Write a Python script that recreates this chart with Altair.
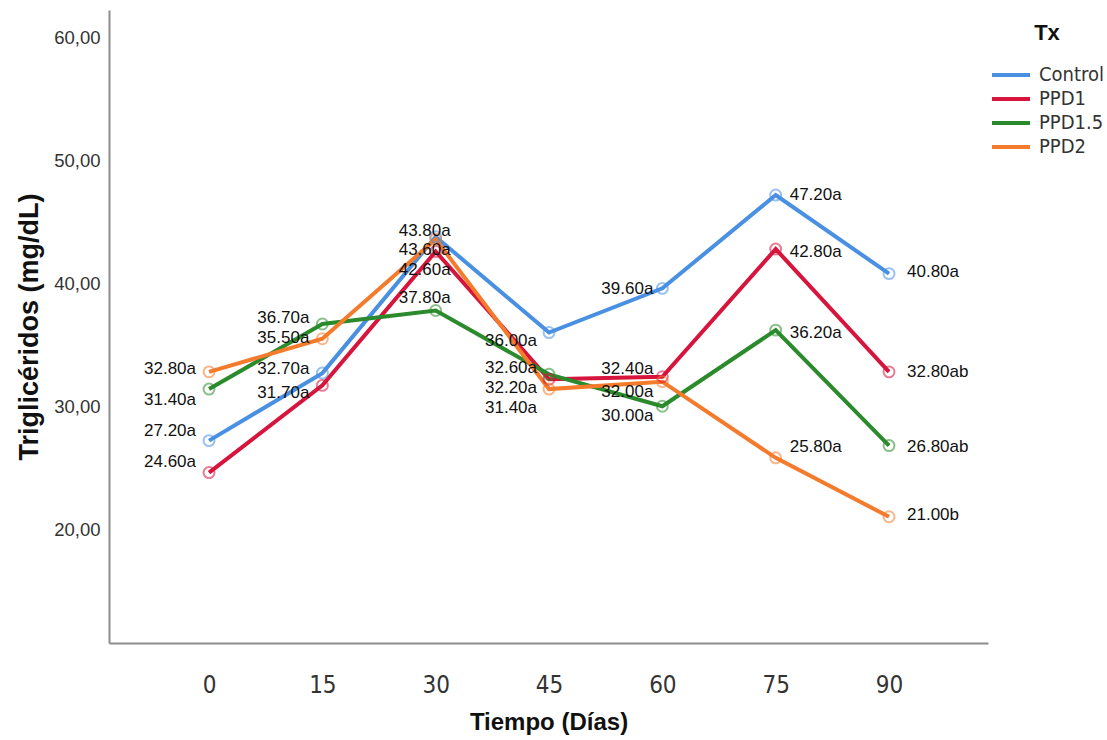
import altair as alt
import pandas as pd

# ---------------- data ----------------
DAYS = [0, 15, 30, 45, 60, 75, 90]
GROUPS = ["Control", "PPD1", "PPD1.5", "PPD2"]
CONTROL = [27.2, 32.7, 43.8, 36.0, 39.6, 47.2, 40.8]
PPD1 = [24.6, 31.7, 42.6, 32.2, 32.4, 42.8, 32.8]
PPD15 = [31.4, 36.7, 37.8, 32.6, 30.0, 36.2, 26.8]
PPD2 = [32.8, 35.5, 43.6, 31.4, 32.0, 25.8, 21.0]
LETTERS_CONTROL = ["a", "a", "a", "a", "a", "a", "a"]
LETTERS_PPD1 = ["a", "a", "a", "a", "a", "a", "ab"]
LETTERS_PPD15 = ["a", "a", "a", "a", "a", "a", "ab"]
LETTERS_PPD2 = ["a", "a", "a", "a", "a", "a", "b"]
Y_TICKS = [20, 30, 40, 50, 60]

# ---------------- style / layout ----------------
COLORS = ["#4a90e2", "#d6143c", "#2b8a2b", "#f47a2c"]
# label nudges in pixels (layout only)
LABEL_DX = [-13, -13, -11, -12, -9, 14, 18]
LABEL_DY = {
    "Control": [-10, -4, -6, 8, 1, 0, -2],
    "PPD1": [-11, 8, 18, 9, -8, 3, 0],
    "PPD1.5": [11, -6, -12, -6, 10, 3, 1],
    "PPD2": [-3, -1, 11, 19, 10, -11, -2],
}

series = {"Control": CONTROL, "PPD1": PPD1, "PPD1.5": PPD15, "PPD2": PPD2}
letters = {"Control": LETTERS_CONTROL, "PPD1": LETTERS_PPD1,
           "PPD1.5": LETTERS_PPD15, "PPD2": LETTERS_PPD2}

rows = []
for g in GROUPS:
    for i, d in enumerate(DAYS):
        v = series[g][i]
        rows.append({
            "Tx": g, "day": d, "value": v,
            "label": f"{v:.2f}{letters[g][i]}",
            "ldx": LABEL_DX[i], "ldy": LABEL_DY[g][i],
        })
df = pd.DataFrame(rows)

FONT = "Liberation Sans"
NARROW = "Liberation Sans Narrow, DejaVu Sans Condensed, Liberation Sans"

x_enc = alt.X(
    "day:Q",
    scale=alt.Scale(domain=[-13.24, 103.1], nice=False, zero=False),
    axis=alt.Axis(
        values=DAYS, title="Tiempo (Días)", grid=False, ticks=False,
        domainColor="#8c8c8c", domainWidth=2,
        labelFont=NARROW, labelFontSize=24, labelColor="#333333",
        labelPadding=30, labelFlush=False,
        titleFont=FONT, titleFontSize=24, titleFontWeight="bold",
        titleColor="#111111", titlePadding=13,
    ),
)
y_enc = alt.Y(
    "value:Q",
    scale=alt.Scale(domain=[10.72, 62.27], nice=False, zero=False),
    axis=alt.Axis(
        values=Y_TICKS, title="Triglicéridos (mg/dL)", grid=False, ticks=False,
        domainColor="#8c8c8c", domainWidth=2,
        labelExpr="replace(format(datum.value, '.2f'), '.', ',')",
        labelFont=FONT, labelFontSize=18.5, labelColor="#333333",
        labelPadding=9,
        titleFont=FONT, titleFontSize=27, titleFontWeight="bold",
        titleColor="#111111", titlePadding=10,
    ),
)

color_scale = alt.Scale(domain=GROUPS, range=COLORS)

base = alt.Chart(df)

lines = base.mark_line(strokeWidth=4).encode(
    x=x_enc, y=y_enc,
    color=alt.Color(
        "Tx:N", scale=color_scale, sort=GROUPS,
        legend=alt.Legend(
            title="Tx", orient="none", legendX=881, legendY=13,
            symbolType="stroke", symbolSize=1444, symbolStrokeWidth=4,
            clipHeight=20, rowPadding=4, labelOffset=7,
            labelFont=NARROW, labelFontSize=20, labelColor="#333333",
            titleFont=FONT, titleFontSize=22, titleFontWeight="bold",
            titleColor="#111111", titleAnchor="middle", titlePadding=20,
        ),
    ),
    order=alt.Order("day:Q"),
    detail="Tx:N",
)

points = base.mark_point(shape="circle", filled=False, size=120,
                         strokeWidth=2, opacity=0.55).encode(
    x="day:Q", y="value:Q",
    stroke=alt.Stroke("Tx:N", scale=color_scale, legend=None),
)


def text_layer(days, align):
    return base.transform_filter(
        alt.FieldOneOfPredicate(field="day", oneOf=days)
    ).mark_text(
        align=align, baseline="middle", font=FONT, fontSize=17,
        color="#111111", dx=alt.expr("datum.ldx"), dy=alt.expr("datum.ldy"),
    ).encode(
        x="day:Q", y="value:Q", text="label:N",
    )


labels_r = text_layer([0, 15, 45, 60], "right")
labels_c = text_layer([30], "center")
labels_l = text_layer([75, 90], "left")

chart = alt.layer(lines, points, labels_r, labels_c, labels_l).properties(
    width=879, height=633,
    autosize=alt.AutoSizeParams(type="none"),
    padding={"left": 109, "top": 10, "right": 119, "bottom": 97},
    background="white",
).configure_view(stroke=None)

chart.save("out.html", embed_options={"renderer": "svg", "actions": False})
